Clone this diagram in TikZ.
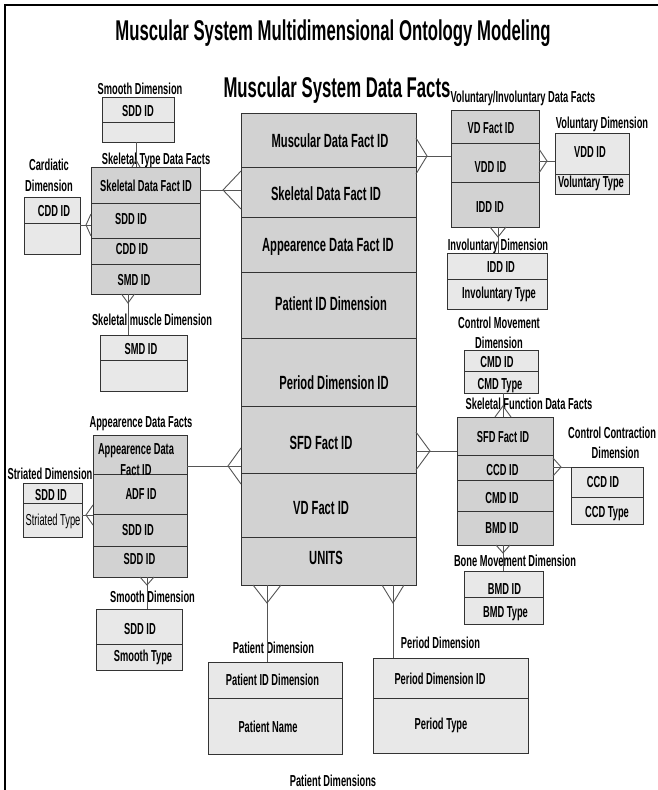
\documentclass[tikz,border=0pt]{standalone}
\usepackage{fontspec}
\newfontfamily\nf{Liberation Sans}[FakeStretch=0.585]
\usetikzlibrary{calc}
\definecolor{factfill}{HTML}{D2D2D2}
\definecolor{dimfill}{HTML}{E8E8E8}
\definecolor{edgec}{HTML}{333333}
\definecolor{connc}{HTML}{555555}
\newcommand\hdiv[2]{\draw[edgeline] ([yshift=-#2pt]#1.north west) -- ([yshift=-#2pt]#1.north east);}
\begin{document}
\begin{tikzpicture}[x=1pt,y=-1pt,
  fact/.style={draw=edgec, fill=factfill, line width=0.9pt, inner sep=0pt, outer sep=0pt, anchor=north west},
  dim/.style={draw=edgec, fill=dimfill, line width=0.9pt, inner sep=0pt, outer sep=0pt, anchor=north west},
  edgeline/.style={draw=edgec, line width=0.9pt},
  conn/.style={draw=connc, line width=0.9pt},
  lbl/.style={font={\nf\bfseries\fontsize{15.9}{18}\selectfont}, inner sep=0pt, text height=11.4pt, text depth=0pt},
  cell/.style={lbl},
  rcell/.style={font={\nf\fontsize{15.9}{18}\selectfont}, inner sep=0pt, text height=11.4pt, text depth=0pt},
  big/.style={font={\nf\bfseries\fontsize{19.1}{21}\selectfont}, inner sep=0pt, text height=13.7pt, text depth=0pt},
  ttl/.style={font={\nf\bfseries\fontsize{28.6}{31}\selectfont}, inner sep=0pt, text height=20.5pt, text depth=0pt}]
\useasboundingbox (0,0) rectangle (657,790);
\fill[white] (0,0) rectangle (657,790);
\draw[line width=2.5pt] (5,850) -- (5,5) -- (700,5);

% titles
\node[ttl] (title) at (333,30) {Muscular System Multidimensional Ontology Modeling};
\node[ttl] (subtitle) at (337,87) {Muscular System Data Facts};

% main fact table
\node[fact, minimum width=175pt, minimum height=472pt] (main) at (241,113) {};
\hdiv{main}{54}\hdiv{main}{104}\hdiv{main}{159}\hdiv{main}{225}\hdiv{main}{293}\hdiv{main}{360}\hdiv{main}{424}
\node[big] (m1) at (330,141) {Muscular Data Fact ID};
\node[big] (m2) at (326,194) {Skeletal Data Fact ID};
\node[big] (m3) at (328,245) {Appearence Data Fact ID};
\node[big] (m4) at (331,304) {Patient ID Dimension};
\node[big] (m5) at (334,383) {Period Dimension ID};
\node[big] (m6) at (321,443) {SFD Fact ID};
\node[big] (m7) at (321,508) {VD Fact ID};
\node[big] (m8) at (326,558) {UNITS};

% skeletal type data facts
\node[lbl] (lST) at (156,159) {Skeletal Type Data Facts};
\node[fact, minimum width=109pt, minimum height=127pt] (ST) at (91,167) {};
\hdiv{ST}{36}\hdiv{ST}{71}\hdiv{ST}{97}
\node[cell] (st1) at (146,186) {Skeletal Data Fact ID};
\node[cell] (st2) at (131,219) {SDD ID};
\node[cell] (st3) at (132,249) {CDD ID};
\node[cell] (st4) at (134,280) {SMD ID};

% smooth dimension (top)
\node[lbl] (lSMt) at (140,89) {Smooth Dimension};
\node[dim, minimum width=72pt, minimum height=45pt] (SMt) at (102,97) {};
\hdiv{SMt}{25}
\node[cell] (smt1) at (138,111) {SDD ID};

% cardiatic
\node[lbl] (lCDa) at (49,165) {Cardiatic};
\node[lbl] (lCDb) at (49,186) {Dimension};
\node[dim, minimum width=56pt, minimum height=57pt] (CDD) at (24,197) {};
\hdiv{CDD}{26}
\node[cell] (cdd1) at (54,211) {CDD ID};

% skeletal muscle dimension
\node[lbl] (lSMD) at (152,320) {Skeletal muscle Dimension};
\node[dim, minimum width=87pt, minimum height=56pt] (SMD) at (100,335) {};
\hdiv{SMD}{25}
\node[cell] (smd1) at (141,349) {SMD ID};

% appearence data facts
\node[lbl] (lAT) at (141,422) {Appearence Data Facts};
\node[fact, minimum width=94pt, minimum height=142pt] (AT) at (93,435) {};
\hdiv{AT}{39}\hdiv{AT}{79}\hdiv{AT}{111}
\node[cell] (at1a) at (136,449) {Appearence Data};
\node[cell] (at1b) at (136,470) {Fact ID};
\node[cell] (at2) at (141,494) {ADF ID};
\node[cell] (at3) at (138,530) {SDD ID};
\node[cell] (at4) at (139.5,559) {SDD ID};

% striated dimension
\node[lbl] (lSTR) at (50,474) {Striated Dimension};
\node[dim, minimum width=59pt, minimum height=54pt] (STR) at (23,483) {};
\hdiv{STR}{20}
\node[cell] (str1) at (51,495) {SDD ID};
\node[rcell] (str2) at (53,520) {Striated Type};

% smooth dimension (low)
\node[lbl] (lSML) at (152.5,597) {Smooth Dimension};
\node[dim, minimum width=86pt, minimum height=61pt] (SML) at (96,609) {};
\hdiv{SML}{35}
\node[cell] (sml1) at (140,629) {SDD ID};
\node[cell] (sml2) at (143,656) {Smooth Type};

% voluntary / involuntary data facts
\node[lbl] (lVID) at (523,97) {Voluntary/Involuntary Data Facts};
\node[fact, minimum width=88pt, minimum height=117pt] (VID) at (451,110) {};
\hdiv{VID}{33}\hdiv{VID}{72}
\node[cell] (vid1) at (491,128) {VD Fact ID};
\node[cell] (vid2) at (490.5,167) {VDD ID};
\node[cell] (vid3) at (490,207) {IDD ID};

% voluntary dimension
\node[lbl] (lVOL) at (602,123) {Voluntary Dimension};
\node[dim, minimum width=74pt, minimum height=61pt] (VOL) at (555,133) {};
\hdiv{VOL}{41}
\node[cell] (vol1) at (590,152) {VDD ID};
\node[cell] (vol2) at (591,182) {Voluntary Type};

% involuntary dimension
\node[lbl] (lINV) at (498,245) {Involuntary Dimension};
\node[dim, minimum width=100pt, minimum height=56pt] (INV) at (447,253) {};
\hdiv{INV}{26}
\node[cell] (inv1) at (501,267) {IDD ID};
\node[cell] (inv2) at (499,293) {Involuntary Type};

% control movement dimension
\node[lbl] (lCMa) at (499,323) {Control Movement};
\node[lbl] (lCMb) at (499,343) {Dimension};
\node[dim, minimum width=74pt, minimum height=43pt] (CMD) at (464,350) {};
\hdiv{CMD}{21}
\node[cell] (cmd1) at (497,362) {CMD ID};
\node[cell] (cmd2) at (500,384) {CMD Type};

% skeletal function data facts
\node[lbl] (lSFD) at (529,404) {Skeletal Function Data Facts};
\node[fact, minimum width=96pt, minimum height=128pt] (SFD) at (457,417) {};
\hdiv{SFD}{38}\hdiv{SFD}{63}\hdiv{SFD}{94}
\node[cell] (sfd1) at (503,437) {SFD Fact ID};
\node[cell] (sfd2) at (502.5,470) {CCD ID};
\node[cell] (sfd3) at (502,498) {CMD ID};
\node[cell] (sfd4) at (502,528) {BMD ID};

% control contraction dimension
\node[lbl, anchor=west] (lCCa) at (568,433) {Control Contraction};
\node[lbl] (lCCb) at (615.5,453) {Dimension};
\node[dim, minimum width=72pt, minimum height=57pt] (CCD) at (571,467) {};
\hdiv{CCD}{30}
\node[cell] (ccd1) at (603,482) {CCD ID};
\node[cell] (ccd2) at (607,512) {CCD Type};

% bone movement dimension
\node[lbl] (lBMD) at (515,561) {Bone Movement Dimension};
\node[dim, minimum width=79pt, minimum height=53pt] (BMD) at (464,571) {};
\hdiv{BMD}{26}
\node[cell] (bmd1) at (504.5,589) {BMD ID};
\node[cell] (bmd2) at (505.5,612) {BMD Type};

% patient dimension
\node[lbl] (lPAT) at (273.5,648) {Patient Dimension};
\node[dim, minimum width=134pt, minimum height=92pt] (PAT) at (208,662) {};
\hdiv{PAT}{36}
\node[cell] (pat1) at (272.5,680) {Patient ID Dimension};
\node[cell] (pat2) at (268,727) {Patient Name};

% period dimension
\node[lbl] (lPER) at (440.5,643) {Period Dimension};
\node[dim, minimum width=155pt, minimum height=95pt] (PER) at (373,658) {};
\hdiv{PER}{40}
\node[cell] (per1) at (440,679) {Period Dimension ID};
\node[cell] (per2) at (441,724) {Period Type};

\node[lbl] (lPDs) at (333,781) {Patient Dimensions};

% connectors with crow's feet
\draw[conn] ([yshift=-23pt]ST.north east) -- ([yshift=-77pt]main.north west);
\draw[conn] ([yshift=-58pt]main.north west) -- ++(-18,19) -- ++(18,19);

\draw[conn] ([xshift=34pt]SMt.south west) -- ([xshift=45pt]ST.north west);
\draw[conn] ([xshift=41pt]ST.north west) -- ++(4,-7) -- ++(4,7);

\draw[conn] ([yshift=-28pt]CDD.north east) -- ([yshift=-58pt]ST.north west);
\draw[conn] ([yshift=-47pt]ST.north west) -- ++(-5,11) -- ++(5,11);

\draw[conn] ([xshift=37pt]ST.south west) -- ([xshift=28pt]SMD.north west);
\draw[conn] ([xshift=30.5pt]ST.south west) -- ++(6.5,9) -- ++(6.5,-9);

\draw[conn] ([yshift=-31pt]AT.north east) -- ([yshift=-353pt]main.north west);
\draw[conn] ([yshift=-335pt]main.north west) -- ++(-13,18) -- ++(13,18);

\draw[conn] ([yshift=-32pt]STR.north east) -- ([yshift=-80pt]AT.north west);
\draw[conn] ([yshift=-70pt]AT.north west) -- ++(-7,10) -- ++(7,10);

\draw[conn] ([xshift=54pt]AT.south west) -- ([xshift=51pt]SML.north west);
\draw[conn] ([xshift=47pt]AT.south west) -- ++(7,8) -- ++(7,-8);

\draw[conn] ([yshift=-43pt]main.north east) -- ([yshift=-46pt]VID.north west);
\draw[conn] ([yshift=-25pt]main.north east) -- ++(11,18) -- ++(-11,18);

\draw[conn] ([yshift=-51pt]VID.north east) -- ([yshift=-28pt]VOL.north west);
\draw[conn] ([yshift=-39pt]VID.north east) -- ++(8,12) -- ++(-8,12);

\draw[conn] ([xshift=47pt]VID.south west) -- ([xshift=51pt]INV.north west);
\draw[conn] ([xshift=39pt]VID.south west) -- ++(8,10) -- ++(8,-10);

\draw[conn] ([xshift=39pt]CMD.south west) -- ([xshift=46pt]SFD.north west);
\draw[conn] ([xshift=38pt]SFD.north west) -- ++(8,-11) -- ++(8,11);

\draw[conn] ([yshift=-338pt]main.north east) -- ([yshift=-34pt]SFD.north west);
\draw[conn] ([yshift=-319pt]main.north east) -- ++(14,19) -- ++(-14,19);

\draw[conn] ([yshift=-50pt]SFD.north east) -- (CCD.north west);
\draw[conn] ([yshift=-41pt]SFD.north east) -- ++(8,9) -- ++(-8,9);

\draw[conn] ([xshift=46pt]SFD.south west) -- ([xshift=39pt]BMD.north west);
\draw[conn] ([xshift=39pt]SFD.south west) -- ++(7,8) -- ++(7,-8);

\draw[conn] ([xshift=26pt]main.south west) -- ([xshift=59pt]PAT.north west);
\draw[conn] ([xshift=12pt]main.south west) -- ++(14,18) -- ++(14,-18);

\draw[conn] ([xshift=152pt]main.south west) -- ([xshift=20pt]PER.north west);
\draw[conn] ([xshift=141pt]main.south west) -- ++(11,18) -- ++(11,-18);
\end{tikzpicture}
\end{document}
